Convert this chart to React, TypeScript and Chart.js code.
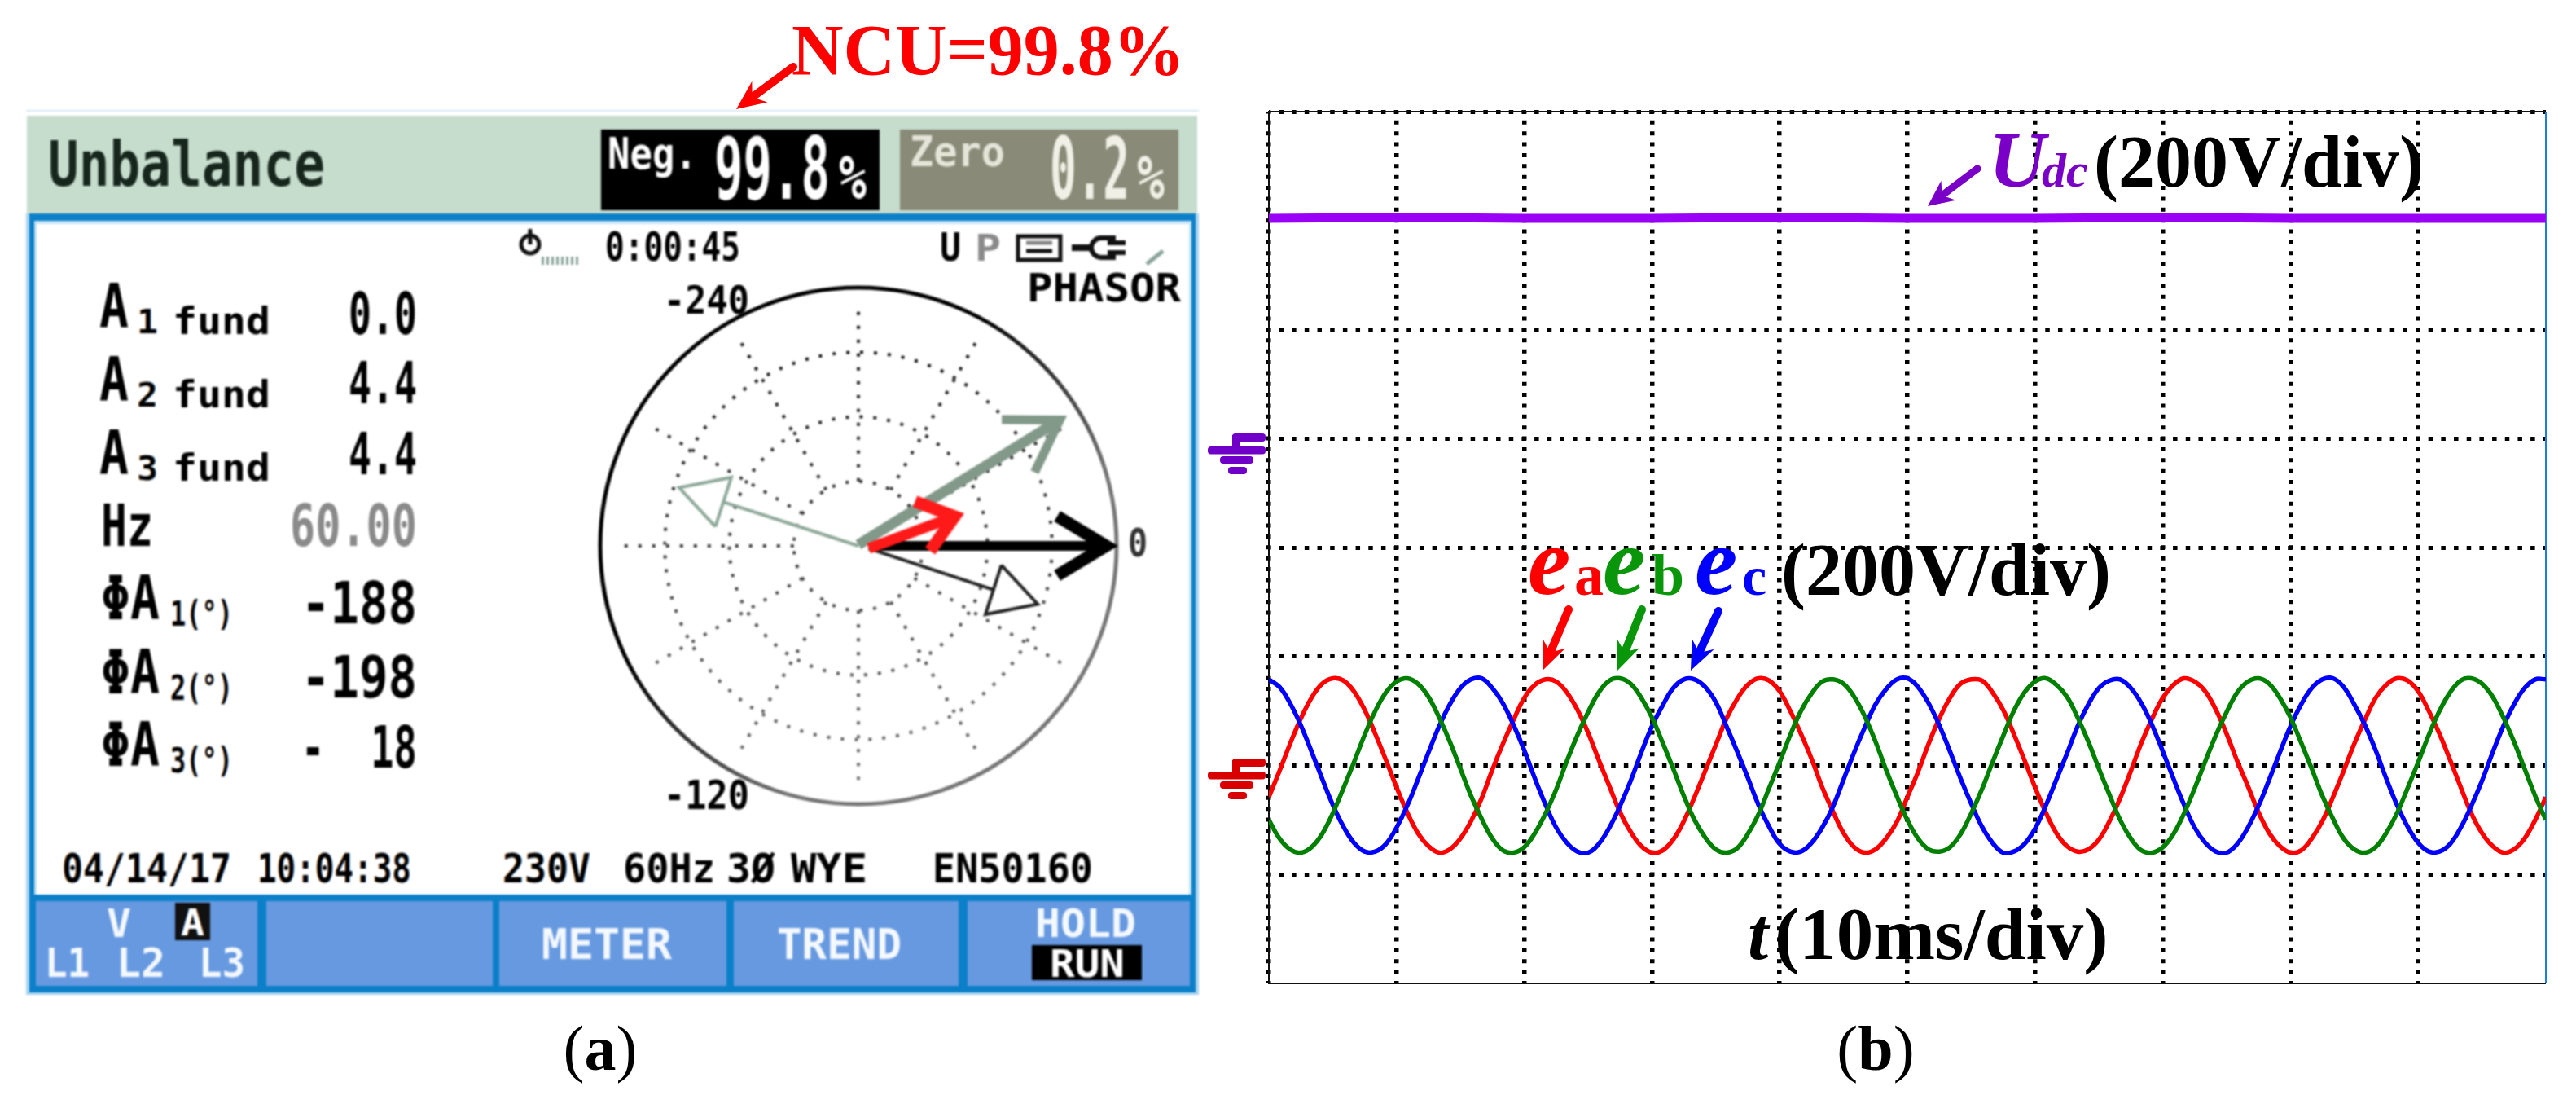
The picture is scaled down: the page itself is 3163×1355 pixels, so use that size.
import React, { useEffect, useRef } from "react";
import { Chart, registerables } from "chart.js";

Chart.register(...registerables);

// ---- Panel (b): oscilloscope traces, in divisions (x 0..10, y 0..8) ----
const sampleStepDiv = 1 / 12;
const eaTrace = [
  1.71, 1.95, 2.2, 2.43, 2.62, 2.75, 2.8, 2.78, 2.68, 2.51, 2.29, 2.05, 1.8, 1.57, 1.38, 1.26, 1.2, 1.23, 1.33, 1.49,
  1.7, 1.96, 2.2, 2.42, 2.62, 2.74, 2.79, 2.77, 2.67, 2.51, 2.3, 2.05, 1.81, 1.57, 1.39, 1.26, 1.2, 1.22, 1.32, 1.49,
  1.71, 1.95, 2.19, 2.43, 2.61, 2.74, 2.8, 2.78, 2.68, 2.5, 2.29, 2.06, 1.8, 1.58, 1.38, 1.25, 1.2, 1.23, 1.33, 1.48,
  1.71, 1.94, 2.2, 2.43, 2.62, 2.75, 2.79, 2.78, 2.67, 2.51, 2.29, 2.05, 1.8, 1.57, 1.38, 1.26, 1.21, 1.23, 1.32, 1.49,
  1.7, 1.95, 2.21, 2.43, 2.62, 2.74, 2.8, 2.77, 2.68, 2.51, 2.29, 2.04, 1.81, 1.57, 1.38, 1.26, 1.2, 1.22, 1.33, 1.49,
  1.71, 1.95, 2.2, 2.42, 2.62, 2.74, 2.8, 2.78, 2.68, 2.5, 2.29, 2.05, 1.8, 1.56, 1.38, 1.26, 1.2, 1.23, 1.33, 1.5,
  1.71,
];
const ebTrace = [
  1.5, 1.33, 1.23, 1.2, 1.25, 1.37, 1.56, 1.79, 2.03, 2.28, 2.5, 2.67, 2.77, 2.8, 2.75, 2.63, 2.44, 2.22, 1.97, 1.72,
  1.51, 1.33, 1.22, 1.2, 1.25, 1.38, 1.56, 1.78, 2.04, 2.28, 2.49, 2.67, 2.78, 2.8, 2.75, 2.62, 2.44, 2.21, 1.97, 1.72,
  1.5, 1.34, 1.23, 1.2, 1.24, 1.37, 1.55, 1.79, 2.03, 2.28, 2.5, 2.66, 2.77, 2.79, 2.75, 2.63, 2.45, 2.22, 1.96, 1.72,
  1.5, 1.33, 1.23, 1.21, 1.25, 1.37, 1.56, 1.78, 2.03, 2.27, 2.5, 2.67, 2.77, 2.8, 2.74, 2.63, 2.44, 2.22, 1.97, 1.73,
  1.5, 1.33, 1.22, 1.2, 1.25, 1.37, 1.56, 1.79, 2.04, 2.28, 2.49, 2.67, 2.77, 2.8, 2.75, 2.62, 2.44, 2.21, 1.97, 1.72,
  1.51, 1.33, 1.23, 1.2, 1.25, 1.38, 1.56, 1.79, 2.03, 2.28, 2.5, 2.67, 2.78, 2.8, 2.75, 2.63, 2.44, 2.22, 1.97, 1.72,
  1.5,
];
const ecTrace = [
  2.79, 2.72, 2.57, 2.37, 2.13, 1.88, 1.64, 1.44, 1.29, 1.21, 1.21, 1.28, 1.43, 1.63, 1.87, 2.12, 2.36, 2.56, 2.71, 2.79,
  2.8, 2.71, 2.57, 2.37, 2.14, 1.88, 1.64, 1.43, 1.29, 1.21, 1.2, 1.28, 1.43, 1.63, 1.86, 2.12, 2.36, 2.55, 2.71, 2.79,
  2.79, 2.72, 2.58, 2.36, 2.13, 1.89, 1.64, 1.44, 1.28, 1.21, 1.21, 1.29, 1.43, 1.62, 1.87, 2.12, 2.35, 2.56, 2.7, 2.79,
  2.8, 2.72, 2.57, 2.37, 2.13, 1.88, 1.65, 1.44, 1.29, 1.2, 1.21, 1.28, 1.42, 1.63, 1.87, 2.11, 2.36, 2.56, 2.71, 2.78,
  2.79, 2.71, 2.57, 2.37, 2.13, 1.88, 1.64, 1.43, 1.29, 1.21, 1.2, 1.28, 1.43, 1.63, 1.87, 2.12, 2.36, 2.56, 2.71, 2.79,
  2.8, 2.72, 2.56, 2.37, 2.14, 1.88, 1.64, 1.44, 1.29, 1.21, 1.21, 1.28, 1.43, 1.63, 1.86, 2.12, 2.36, 2.56, 2.71, 2.79,
  2.79,
];
const udcTime = [0, 1, 2, 3, 4, 5, 6, 7, 8, 9, 10];
const udcTrace = [7.02, 7.03, 7.02, 7.02, 7.03, 7.02, 7.02, 7.03, 7.02, 7.02, 7.02];

// ---- Panel (a): phasor diagram ----
const phasorNames = ["A1 zero", "A2 open", "V thick", "V open", "A red"];
const phasorAngles = [0, -18, 32, 162, 17];
const phasorMags = [0.96, 0.73, 0.92, 0.73, 0.39];
const ringRadii = [0.25, 0.5, 0.75];
const spokeAngles = [0, 30, 60, 90, 120, 150, 180, 210, 240, 270, 300, 330];

const readingLabels = ["0.0", "4.4", "4.4", "60.00", "-188", "-198", "-  18"];

const mono = '"DejaVu Sans Mono", monospace';
const serif = '"Liberation Serif", serif';

function M({ t, x0, x1, top, bottom, color = "#000", weight = 700 }: any) {
  const size = (bottom - top) / 0.729;
  const sx = (x1 - x0) / (t.length * 0.602 * size);
  return (
    <div
      style={{
        position: "absolute",
        left: x0,
        top: bottom - 0.846 * size,
        fontFamily: mono,
        fontWeight: weight,
        fontSize: size,
        lineHeight: 1,
        color,
        whiteSpace: "pre",
        transform: `scaleX(${sx})`,
        transformOrigin: "left top",
      }}
    >
      {t}
    </div>
  );
}

function S({ x, base, size, color = "#000", bold = true, italic = false, children, center = false }: any) {
  return (
    <div
      style={{
        position: "absolute",
        left: x,
        top: base - 0.8375 * size,
        fontFamily: serif,
        fontWeight: bold ? 700 : 400,
        fontStyle: italic ? "italic" : "normal",
        fontSize: size,
        lineHeight: 1,
        color,
        whiteSpace: "pre",
        transform: center ? "translateX(-50%)" : undefined,
      }}
    >
      {children}
    </div>
  );
}

function Box({ x0, y0, x1, y1, color, extra }: any) {
  return <div style={{ position: "absolute", left: x0, top: y0, width: x1 - x0, height: y1 - y0, background: color, ...extra }} />;
}

function Arrow({ x1, y1, x2, y2, color, w = 9, hl = 34, hw = 30 }: any) {
  const L = Math.hypot(x2 - x1, y2 - y1);
  const ux = (x2 - x1) / L;
  const uy = (y2 - y1) / L;
  const px = -uy;
  const py = ux;
  const bx = x2 - ux * hl;
  const by = y2 - uy * hl;
  const nx = x2 - ux * hl * 0.78;
  const ny = y2 - uy * hl * 0.78;
  const pts = [
    [x1 + (px * w) / 2, y1 + (py * w) / 2],
    [nx + (px * w) / 2, ny + (py * w) / 2],
    [bx + (px * hw) / 2, by + (py * hw) / 2],
    [x2, y2],
    [bx - (px * hw) / 2, by - (py * hw) / 2],
    [nx - (px * w) / 2, ny - (py * w) / 2],
    [x1 - (px * w) / 2, y1 - (py * w) / 2],
  ];
  return (
    <g>
      <polygon points={pts.map((p) => p.join(",")).join(" ")} fill={color} />
      <circle cx={x1} cy={y1} r={w / 2} fill={color} />
    </g>
  );
}

function Ground({ x, y, color }: any) {
  return (
    <g fill={color} transform={`translate(${x},${y})`}>
      <rect x={30} y={0} width={41} height={10} rx={4} />
      <rect x={30} y={2} width={10} height={16} />
      <rect x={0} y={16} width={71} height={9.5} rx={4} />
      <rect x={15} y={28} width={41} height={9} rx={4} />
      <rect x={25} y={41} width={23} height={9} rx={4} />
    </g>
  );
}

const rad = (d: number) => (d * Math.PI) / 180;
const polar = (r: number, a: number) => ({ x: r * Math.cos(rad(a)), y: r * Math.sin(rad(a)) });
function along(tip: any, a: number, back: number, side: number) {
  return {
    x: tip.x - back * Math.cos(rad(a)) - side * Math.sin(rad(a)),
    y: tip.y - back * Math.sin(rad(a)) + side * Math.cos(rad(a)),
  };
}
function shaftAndHead(i: number, originX: number, originY: number, back: number, side: number, closed: boolean, color: string, shaftW: number, headW: number) {
  const a = phasorAngles[i];
  const tip = polar(phasorMags[i], a);
  const end = closed ? along(tip, a, back, 0) : tip;
  const head = [along(tip, a, back, side), tip, along(tip, a, back, -side)];
  if (closed) head.push(head[0]);
  const base = { showLine: true, pointRadius: 0, tension: 0, borderColor: color, borderCapStyle: "butt", borderJoinStyle: "miter", fill: false };
  return [
    { ...base, label: phasorNames[i] + " head", data: head, borderWidth: headW },
    { ...base, label: phasorNames[i], data: [{ x: originX, y: originY }, end], borderWidth: shaftW },
  ];
}

export default function App() {
  const scopeRef = useRef<HTMLCanvasElement>(null);
  const phasorRef = useRef<HTMLCanvasElement>(null);

  useEffect(() => {
    document.body.style.margin = "0";
    const xy = (ys: number[]) => ys.map((y, i) => ({ x: i * sampleStepDiv, y }));
    const trace = { pointRadius: 0, tension: 0.4, borderWidth: 5.5, fill: false };
    const frame = {
      id: "frame",
      beforeDatasetsDraw(chart: any) {
        const { ctx, chartArea: a } = chart;
        ctx.save();
        ctx.lineWidth = 2;
        ctx.strokeStyle = "#111";
        ctx.beginPath();
        ctx.moveTo(a.right, a.top);
        ctx.lineTo(a.left, a.top);
        ctx.lineTo(a.left, a.bottom);
        ctx.lineTo(a.right, a.bottom);
        ctx.stroke();
        ctx.strokeStyle = "#1a7fe0";
        ctx.beginPath();
        ctx.moveTo(a.right, a.top);
        ctx.lineTo(a.right, a.bottom);
        ctx.stroke();
        ctx.restore();
      },
    };
    const scope = new Chart(scopeRef.current as any, {
      type: "line",
      data: {
        datasets: [
          { ...trace, label: "eb", data: xy(ebTrace), borderColor: "#008000" },
          { ...trace, label: "ec", data: xy(ecTrace), borderColor: "#0000ff" },
          { ...trace, label: "ea", data: xy(eaTrace), borderColor: "#ff0000" },
          { label: "Udc", data: udcTime.map((x, i) => ({ x, y: udcTrace[i] })), pointRadius: 0, tension: 0, borderWidth: 11, borderColor: "#9a00f5", fill: false },
        ],
      } as any,
      plugins: [frame],
      options: {
        animation: false,
        responsive: false,
        layout: { padding: { left: 1558, top: 137, right: 37, bottom: 148 } },
        plugins: { legend: { display: false }, tooltip: { enabled: false } },
        scales: {
          x: {
            type: "linear",
            min: 0,
            max: 10,
            ticks: { stepSize: 1, display: false },
            grid: { drawTicks: false, lineWidth: 5.5, color: (c: any) => (c.tick.value === 10 ? "transparent" : "#000") },
            border: { display: false, dash: [5, 8.37], dashOffset: 2.5 },
          },
          y: {
            type: "linear",
            min: 0,
            max: 8,
            ticks: { stepSize: 1, display: false },
            grid: { drawTicks: false, lineWidth: 5, color: (c: any) => (c.tick.value === 0 ? "transparent" : "#000") },
            border: { display: false, dash: [5.5, 10.18], dashOffset: 3.2 },
          },
        },
      } as any,
    });

    const polarGrid = {
      id: "polarGrid",
      beforeDatasetsDraw(chart: any) {
        const { ctx, scales } = chart;
        const cx = scales.x.getPixelForValue(0);
        const cy = scales.y.getPixelForValue(0);
        const unit = scales.x.getPixelForValue(1) - cx;
        ctx.save();
        const fade = ctx.createLinearGradient(0, cy - unit, 0, cy + unit);
        fade.addColorStop(0, "#111");
        fade.addColorStop(1, "#777");
        ctx.strokeStyle = fade;
        ctx.lineWidth = 4;
        ctx.setLineDash([4, 13]);
        ringRadii.forEach((r) => {
          ctx.beginPath();
          ctx.arc(cx, cy, r * unit, 0, Math.PI * 2);
          ctx.stroke();
        });
        spokeAngles.forEach((a) => {
          ctx.beginPath();
          ctx.moveTo(cx + 0.25 * unit * Math.cos(rad(a)), cy - 0.25 * unit * Math.sin(rad(a)));
          ctx.lineTo(cx + 0.94 * unit * Math.cos(rad(a)), cy - 0.94 * unit * Math.sin(rad(a)));
          ctx.stroke();
        });
        ctx.setLineDash([]);
        const edge = ctx.createLinearGradient(cx - 0.7 * unit, cy - 0.7 * unit, cx + 0.7 * unit, cy + 0.7 * unit);
        edge.addColorStop(0.35, "#000");
        edge.addColorStop(0.75, "#777");
        ctx.strokeStyle = edge;
        ctx.lineWidth = 5;
        ctx.beginPath();
        ctx.arc(cx, cy, unit, 0, Math.PI * 2);
        ctx.stroke();
        ctx.restore();
      },
    };
    const phasor = new Chart(phasorRef.current as any, {
      type: "scatter",
      data: {
        datasets: [
          ...shaftAndHead(4, 0.04, -0.01, 0.13, 0.1, false, "#ff1a1a", 13, 15),
          ...shaftAndHead(2, 0, 0.005, 0.19, 0.12, false, "#82998a", 13, 11),
          ...shaftAndHead(0, 0.04, 0, 0.19, 0.115, false, "#000", 12, 15),
          ...shaftAndHead(1, 0.04, -0.01, 0.18, 0.1, true, "#222", 4, 4),
          ...shaftAndHead(3, 0, 0, 0.18, 0.1, true, "#8ea99a", 4, 4),
        ],
      } as any,
      plugins: [polarGrid],
      options: {
        animation: false,
        responsive: false,
        layout: { padding: 0 },
        plugins: { legend: { display: false }, tooltip: { enabled: false } },
        scales: {
          x: { type: "linear", min: -340 / 317, max: 340 / 317, display: false },
          y: { type: "linear", min: -340 / 317, max: 340 / 317, display: false },
        },
      } as any,
    });
    return () => {
      scope.destroy();
      phasor.destroy();
    };
  }, []);

  const rows = [
    { sub: "1", bottom: 402, vb: 410 },
    { sub: "2", bottom: 492, vb: 495 },
    { sub: "3", bottom: 582, vb: 582 },
  ];
  const phaseRows = [
    { sub: "1(°)", bottom: 760, vb: 765 },
    { sub: "2(°)", bottom: 851, vb: 856 },
    { sub: "3(°)", bottom: 940, vb: 942 },
  ];
  const white = "#f4f8ff";

  return (
    <div style={{ position: "relative", width: 3163, height: 1355, overflow: "hidden", background: "#fff" }}>
      <canvas ref={scopeRef} width={3163} height={1355} style={{ position: "absolute", left: 0, top: 0, display: "block" }} />

      {/* Panel (a): analyser screen */}
      <div style={{ position: "absolute", left: 0, top: 0, width: 1500, height: 1355, filter: "blur(0.9px)" }}>
        <Box x0={32} y0={135} x1={1472} y1={137} color="#d6e8f4" />
        <Box x0={33} y0={142} x1={1470} y1={264} color="#c6dccd" />
        <Box x0={32} y0={262} x1={1472} y1={1221} color="#a6d2ee" />
        <Box x0={36} y0={262} x1={1468} y1={1218} color="#0b80c8" />
        <Box x0={42} y0={271} x1={1463} y1={1098} color="#c4e2f4" />
        <Box x0={45} y0={275} x1={1460} y1={1098} color="#fff" />
        <Box x0={44} y0={1106} x1={316} y1={1210} color="#6699e0" />
        <Box x0={327} y0={1106} x1={605} y1={1210} color="#6699e0" />
        <Box x0={613} y0={1106} x1={892} y1={1210} color="#6699e0" />
        <Box x0={901} y0={1106} x1={1177} y1={1210} color="#6699e0" />
        <Box x0={1188} y0={1106} x1={1461} y1={1210} color="#6699e0" />
        <Box x0={738} y0={159} x1={1080} y1={258} color="#000" />
        <Box x0={1105} y0={159} x1={1447} y1={258} color="#8a8a78" />

        <canvas ref={phasorRef} width={680} height={680} style={{ position: "absolute", left: 714, top: 330, display: "block" }} />

        <M t="Unbalance" x0={59} x1={399} top={173} bottom={229} color="#16261c" />
        <M t="Neg." x0={746} x1={856} top={168} bottom={207} color="#fff" />
        <M t="99.8" x0={877} x1={1019} top={168} bottom={244} color="#fff" />
        <M t="%" x0={1030} x1={1064} top={190} bottom={244} color="#fff" />
        <M t="Zero" x0={1117} x1={1234} top={168} bottom={205} color="#e4e4d8" />
        <M t="0.2" x0={1289} x1={1387} top={168} bottom={244} color="#f0f0e6" />
        <M t="%" x0={1396} x1={1430} top={190} bottom={244} color="#f0f0e6" />

        <M t="0:00:45" x0={743} x1={909} top={285} bottom={321} />
        <M t="U" x0={1154} x1={1180} top={285} bottom={320} />
        <M t="P" x0={1197} x1={1229} top={288} bottom={320} color="#8a8a8a" />
        <M t="PHASOR" x0={1261} x1={1450} top={335} bottom={370} />
        <M t="-240" x0={815} x1={920} top={350} bottom={385} />
        <M t="-120" x0={815} x1={920} top={958} bottom={994} />
        <M t="0" x0={1385} x1={1409} top={648} bottom={683} color="#333" />

        {rows.map((r, i) => (
          <React.Fragment key={r.sub}>
            <M t="A" x0={122} x1={158} top={r.bottom - 54} bottom={r.bottom} />
            <M t={r.sub} x0={168} x1={194} top={r.bottom - 22} bottom={r.bottom + 8} />
            <M t="fund" x0={212} x1={332} top={r.bottom - 26} bottom={r.bottom + 8} />
            <M t={readingLabels[i]} x0={428} x1={512} top={r.vb - 52} bottom={r.vb} />
          </React.Fragment>
        ))}
        <M t="Hz" x0={124} x1={188} top={618} bottom={670} />
        <M t={readingLabels[3]} x0={356} x1={512} top={618} bottom={670} color="#8a8a8a" />
        {phaseRows.map((r, i) => (
          <React.Fragment key={r.sub}>
            <M t="ΦA" x0={124} x1={196} top={r.bottom - 54} bottom={r.bottom} />
            <M t={r.sub} x0={209} x1={286} top={r.bottom - 22} bottom={r.bottom + 9} />
            <M t={readingLabels[4 + i]} x0={370} x1={512} top={r.vb - 52} bottom={r.vb} />
          </React.Fragment>
        ))}

        <M t="04/14/17" x0={76} x1={284} top={1048} bottom={1084} />
        <M t="10:04:38" x0={316} x1={505} top={1048} bottom={1084} />
        <M t="230V" x0={617} x1={725} top={1048} bottom={1084} />
        <M t="60Hz" x0={765} x1={878} top={1048} bottom={1084} />
        <M t="3Ø" x0={892} x1={952} top={1048} bottom={1084} />
        <M t="WYE" x0={971} x1={1065} top={1048} bottom={1084} />
        <M t="EN50160" x0={1145} x1={1342} top={1048} bottom={1084} />

        <M t="V" x0={131} x1={161} top={1115} bottom={1150} color={white} />
        <Box x0={215} y0={1108} x1={258} y1={1154} color="#111" />
        <M t="A" x0={222} x1={251} top={1115} bottom={1148} color="#fff" />
        <M t="L1" x0={55} x1={110} top={1164} bottom={1200} color={white} />
        <M t="L2" x0={143} x1={203} top={1164} bottom={1200} color={white} />
        <M t="L3" x0={244} x1={301} top={1164} bottom={1200} color={white} />
        <M t="METER" x0={665} x1={825} top={1141} bottom={1178} color={white} />
        <M t="TREND" x0={954} x1={1107} top={1141} bottom={1178} color={white} />
        <M t="HOLD" x0={1271} x1={1395} top={1115} bottom={1150} color={white} />
        <Box x0={1267} y0={1160} x1={1402} y1={1203} color="#000" />
        <M t="RUN" x0={1289} x1={1381} top={1165} bottom={1199} color="#fff" />

        <svg width={1500} height={1355} style={{ position: "absolute", left: 0, top: 0 }}>
          <g stroke="#111" strokeWidth={5} fill="none">
            <circle cx={651} cy={300} r={11} />
            <line x1={651} y1={281} x2={651} y2={300} />
            <line x1={665} y1={320} x2={713} y2={320} stroke="#8aa59a" strokeWidth={10} strokeDasharray="3 3" />
            <rect x={1250} y={290} width={52} height={29} />
            <line x1={1260} y1={308} x2={1292} y2={308} />
            <line x1={1260} y1={298} x2={1292} y2={298} stroke="#888" />
            <line x1={1316} y1={304} x2={1340} y2={304} strokeWidth={8} />
            <path d="M1370 292 H1352 A12 12 0 0 0 1352 316 H1370" strokeWidth={6} />
            <line x1={1360} y1={298} x2={1382} y2={298} strokeWidth={6} />
            <line x1={1360} y1={310} x2={1382} y2={310} strokeWidth={6} />
            <line x1={1408} y1={324} x2={1428} y2={308} stroke="#8aa59a" />
          </g>
        </svg>
      </div>

      {/* Annotations */}
      <svg width={3163} height={1355} style={{ position: "absolute", left: 0, top: 0 }}>
        <Arrow x1={974} y1={82} x2={904} y2={134} color="#f00" w={10} hl={36} hw={32} />
        <Arrow x1={2428} y1={207} x2={2367} y2={253} color="#7a00c8" w={9} hl={32} hw={30} />
        <Arrow x1={1926} y1={748} x2={1894} y2={823} color="#f00" w={10} hl={36} hw={30} />
        <Arrow x1={2016} y1={748} x2={1986} y2={823} color="#0a960a" w={10} hl={36} hw={30} />
        <Arrow x1={2110} y1={750} x2={2076} y2={823} color="#0000ff" w={10} hl={36} hw={30} />
        <Ground x={1483} y={532} color="#7000c8" />
        <Ground x={1483} y={931} color="#d80000" />
      </svg>

      <S x={972} base={92} size={88} color="#f00">NCU=99.8%</S>
      <S x={737} base={1313} size={78} center bold={false}>
        (<span style={{ fontWeight: 700 }}>a</span>)
      </S>
      <S x={2303} base={1313} size={78} center bold={false}>
        (<span style={{ fontWeight: 700 }}>b</span>)
      </S>

      <S x={2442} base={229} size={97} color="#7a00c8" italic>U</S>
      <S x={2507} base={229} size={60} color="#7a00c8" italic>dc</S>
      <S x={2571} base={229} size={90}>(200V/div)</S>

      <S x={1876} base={730} size={118} color="#f00" italic>e</S>
      <S x={1933} base={730} size={72} color="#f00">a</S>
      <S x={1968} base={730} size={118} color="#0a960a" italic>e</S>
      <S x={2028} base={730} size={72} color="#0a960a">b</S>
      <S x={2081} base={730} size={118} color="#0000ff" italic>e</S>
      <S x={2139} base={730} size={68} color="#0000ff">c</S>
      <S x={2187} base={730} size={90}>(200V/div)</S>

      <S x={2146} base={1177} size={91} italic>t</S>
      <S x={2179} base={1177} size={91}>(10ms/div)</S>
    </div>
  );
}
